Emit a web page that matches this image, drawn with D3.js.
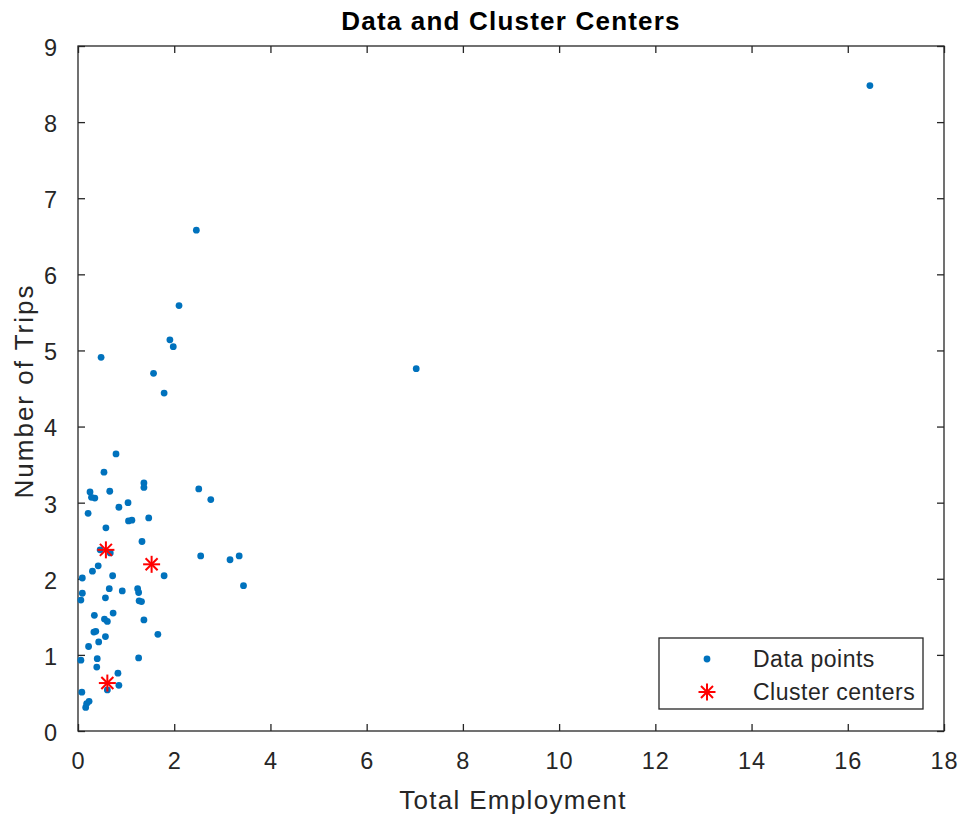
<!DOCTYPE html>
<html lang="en">
<head>
    <meta charset="utf-8">
    <title>Data and Cluster Centers</title>
    <script src="https://d3js.org/d3.v7.min.js"></script>
    <style type="text/css">
        body{
            margin: 0;
            background: #fff;
        }
        svg{
            display: block;
            font-family: "Liberation Sans", Arial, sans-serif;
        }
        .tick text{
            font-size: 23.5px;
            letter-spacing: 1px;
            fill: #262626;
        }
    </style>
</head>
<body>
    <div id="chart"></div>

    <script type="text/javascript">

        // data points
        const pointX = [0.79,0.54,1.37,1.37,0.25,0.28,0.35,0.66,1.04,0.85,0.21,1.05,1.12,1.47,0.58,1.33,0.67,0.46,
            0.42,0.30,0.72,0.09,1.79,0.65,0.92,1.24,1.26,0.09,0.06,0.57,1.27,1.32,0.34,0.73,0.55,0.61,1.37,
            0.33,0.37,0.57,0.43,1.66,0.22,0.06,0.40,0.39,1.26,0.83,0.85,0.61,0.08,0.23,0.18,0.16,
            2.51,2.76,2.55,3.16,3.35,3.44,2.46,2.10,1.91,1.98,1.57,1.79,0.48,7.03,16.46];
        const pointY = [3.64,3.40,3.26,3.20,3.14,3.07,3.06,3.15,3.00,2.94,2.86,2.76,2.77,2.80,2.67,2.49,2.34,2.38,
            2.17,2.10,2.04,2.01,2.04,1.87,1.84,1.87,1.82,1.81,1.72,1.75,1.71,1.70,1.52,1.55,1.47,1.44,1.46,
            1.30,1.31,1.24,1.17,1.27,1.11,0.93,0.95,0.84,0.96,0.76,0.60,0.54,0.51,0.39,0.36,0.31,
            3.18,3.04,2.30,2.25,2.30,1.91,6.58,5.59,5.14,5.05,4.70,4.44,4.91,4.76,8.48];

        // cluster centers
        const centerX = [0.58, 1.53, 0.61];
        const centerY = [2.38, 2.19, 0.63];

        const xTicks = [0,2,4,6,8,10,12,14,16,18];
        const yTicks = [0,1,2,3,4,5,6,7,8,9];
        const legendLabels = ["Data points", "Cluster centers"];

        const W = 963, H = 816;
        const mLeft = 78, mRight = 944, mTop = 46, mBottom = 731;
        const ink = "#262626";
        const blue = "#0072BD";

        const x = d3.scaleLinear().domain([0,18]).range([mLeft,mRight]);
        const y = d3.scaleLinear().domain([0,9]).range([mBottom,mTop]);

        const svg = d3.select("#chart").append("svg")
            .attr("width", W)
            .attr("height", H);

        svg.append("rect").attr("width", W).attr("height", H).attr("fill", "#fff");

        // axes, ticks pointing inward
        const tickLen = 7;
        const gx = svg.append("g")
            .attr("transform", `translate(0,${mBottom})`)
            .call(d3.axisBottom(x).tickValues(xTicks).tickSize(-tickLen).tickPadding(18));
        const gy = svg.append("g")
            .attr("transform", `translate(${mLeft},0)`)
            .call(d3.axisLeft(y).tickValues(yTicks).tickSize(-tickLen).tickPadding(tickLen + 13));
        const gxTop = svg.append("g")
            .attr("transform", `translate(0,${mTop})`)
            .call(d3.axisTop(x).tickValues(xTicks).tickSize(-tickLen).tickFormat(""));
        const gyRight = svg.append("g")
            .attr("transform", `translate(${mRight},0)`)
            .call(d3.axisRight(y).tickValues(yTicks).tickSize(-tickLen).tickFormat(""));

        [gx, gy, gxTop, gyRight].forEach(g => {
            g.select(".domain").remove();
            g.selectAll(".tick line").attr("stroke", ink).attr("stroke-width", 1.3);
        });
        gx.selectAll(".tick text").attr("dy", "0.85em");
        gy.selectAll(".tick text").attr("dy", "0.4em");

        svg.append("rect")
            .attr("x", mLeft).attr("y", mTop)
            .attr("width", mRight - mLeft).attr("height", mBottom - mTop)
            .attr("fill", "none")
            .attr("stroke", ink)
            .attr("stroke-width", 1.3);

        // data points
        svg.append("g").selectAll("circle")
            .data(pointX.map((d,i) => [d, pointY[i]]))
            .enter()
            .append("circle")
            .attr("cx", d => x(d[0]))
            .attr("cy", d => y(d[1]))
            .attr("r", 3.4)
            .attr("fill", blue);

        // asterisk marker like matlab's '*'
        function star(g, cx, cy, s) {
            const d = s * 0.7071;
            const segs = [[-s,0,s,0],[0,-s,0,s],[-d,-d,d,d],[-d,d,d,-d]];
            g.selectAll(null)
                .data(segs)
                .enter()
                .append("line")
                .attr("x1", v => cx + v[0]).attr("y1", v => cy + v[1])
                .attr("x2", v => cx + v[2]).attr("y2", v => cy + v[3])
                .attr("stroke", "#ff0000")
                .attr("stroke-width", 2);
        }

        const centers = svg.append("g");
        centerX.forEach((d,i) => star(centers.append("g"), x(d), y(centerY[i]), 8.5));

        // titles
        svg.append("text")
            .attr("x", (mLeft + mRight) / 2)
            .attr("y", 30)
            .attr("text-anchor", "middle")
            .attr("font-size", 26)
            .attr("font-weight", "bold")
            .attr("letter-spacing", 1.2)
            .attr("fill", "#000")
            .text("Data and Cluster Centers");

        svg.append("text")
            .attr("x", 513)
            .attr("y", 809)
            .attr("text-anchor", "middle")
            .attr("font-size", 26)
            .attr("letter-spacing", 1.3)
            .attr("fill", ink)
            .text("Total Employment");

        svg.append("text")
            .attr("transform", "translate(33,391) rotate(-90)")
            .attr("text-anchor", "middle")
            .attr("font-size", 26)
            .attr("letter-spacing", 2)
            .attr("fill", ink)
            .text("Number of Trips");

        // legend
        const leg = svg.append("g");
        leg.append("rect")
            .attr("x", 659).attr("y", 638)
            .attr("width", 264).attr("height", 71)
            .attr("fill", "#fff")
            .attr("stroke", ink)
            .attr("stroke-width", 1.3);

        const rowY = [659, 692];
        leg.append("circle")
            .attr("cx", 707).attr("cy", rowY[0])
            .attr("r", 3.4)
            .attr("fill", blue);
        star(leg.append("g"), 707, rowY[1], 8.5);

        leg.selectAll("text")
            .data(legendLabels)
            .enter()
            .append("text")
            .attr("x", 753)
            .attr("y", (d,i) => rowY[i])
            .attr("dy", "0.36em")
            .attr("font-size", 23)
            .attr("letter-spacing", 0.5)
            .attr("fill", ink)
            .text(d => d);
    </script>
</body>
</html>
